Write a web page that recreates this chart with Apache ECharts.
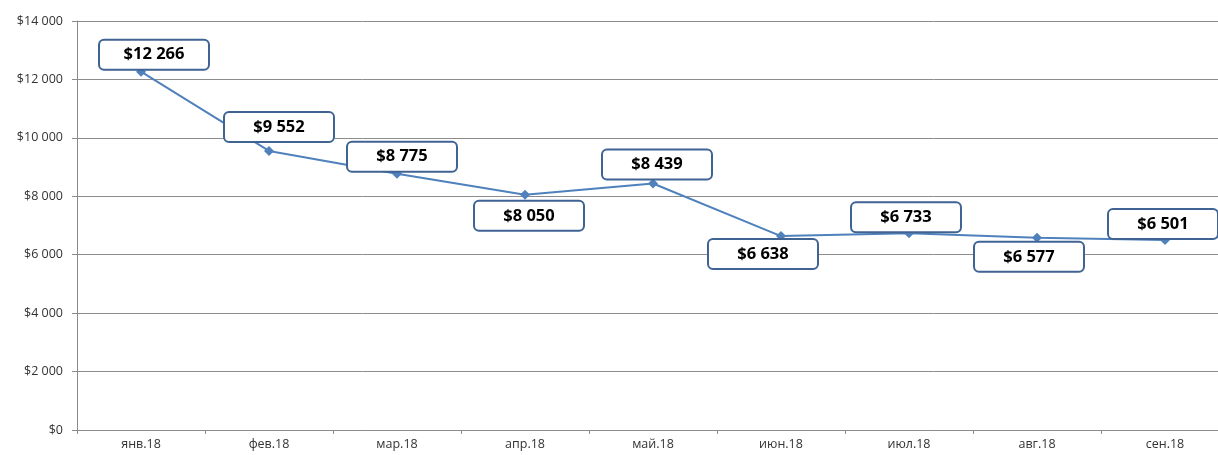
<!DOCTYPE html>
<html>
<head>
<meta charset="utf-8">
<script src="https://cdn.jsdelivr.net/npm/echarts@6/dist/echarts.min.js"></script>
<style>
  html, body { margin: 0; padding: 0; background: #fff; }
  #chart { width: 1218px; height: 455px; }
</style>
</head>
<body>
<div id="chart"></div>
<script>
// месяцы и значения
const months = ['янв.18', 'фев.18', 'мар.18', 'апр.18', 'май.18', 'июн.18', 'июл.18', 'авг.18', 'сен.18']
const values = [12266, 9552, 8775, 8050, 8439, 6638, 6733, 6577, 6501]
const yTicks = [0, 2000, 4000, 6000, 8000, 10000, 12000, 14000]
// смещение подписей относительно точки (как в исходнике)
const labelOffsets = [[13, -17], [10, -24], [5, -17], [4, 21], [4, -19], [-18, 18], [-3, -16], [-8, 19], [-2, -16]]

function money (v) {
  let s = String(Math.round(v))
  s = s.replace(/\B(?=(\d{3})+(?!\d))/g, ' ')
  return '$' + s
}

let chart = echarts.init(document.getElementById('chart'), null, { renderer: 'canvas' })

let seriesData = values.map((v, i) => {
  return {
    value: v,
    label: {
      offset: labelOffsets[i]
    }
  }
})

let option = {
  animation: false,
  backgroundColor: '#ffffff',
  grid: {
    left: 77,
    right: -11,
    top: 21,
    bottom: 25,
    containLabel: false,
    outerBoundsMode: 'none'
  },
  xAxis: {
    type: 'category',
    data: months,
    boundaryGap: true,
    axisLine: { lineStyle: { color: '#8c8c8c', width: 1 } },
    axisTick: { show: true, length: 4, alignWithLabel: false, lineStyle: { color: '#8c8c8c' } },
    axisLabel: {
      color: '#333333',
      fontFamily: 'Open Sans',
      fontSize: 12.5,
      margin: 8
    }
  },
  yAxis: {
    type: 'value',
    min: yTicks[0],
    max: yTicks[yTicks.length - 1],
    interval: 2000,
    axisLine: { show: true, lineStyle: { color: '#8c8c8c', width: 1 } },
    axisTick: { show: true, length: 5, lineStyle: { color: '#8c8c8c' } },
    splitLine: { lineStyle: { color: '#8c8c8c', width: 1 } },
    axisLabel: {
      color: '#333333',
      fontFamily: 'Open Sans',
      fontSize: 12.5,
      margin: 14,
      formatter: (v) => money(v)
    }
  },
  series: [{
    type: 'line',
    data: seriesData,
    symbol: 'diamond',
    symbolSize: 10,
    lineStyle: { color: '#4f81bd', width: 2 },
    itemStyle: { color: '#4f81bd' },
    label: {
      show: true,
      position: 'inside',
      formatter: (p) => money(p.value),
      color: '#000',
      fontFamily: 'Open Sans',
      fontWeight: 'bold',
      fontSize: 16.5,
      backgroundColor: '#ffffff',
      borderColor: '#3f6393',
      borderWidth: 2,
      borderRadius: 4,
      width: 100,
      height: 20,
      lineHeight: 20,
      align: 'center',
      verticalAlign: 'middle',
      padding: [5, 4, 3, 4]
    }
  }]
}

chart.setOption(option)
</script>
</body>
</html>
